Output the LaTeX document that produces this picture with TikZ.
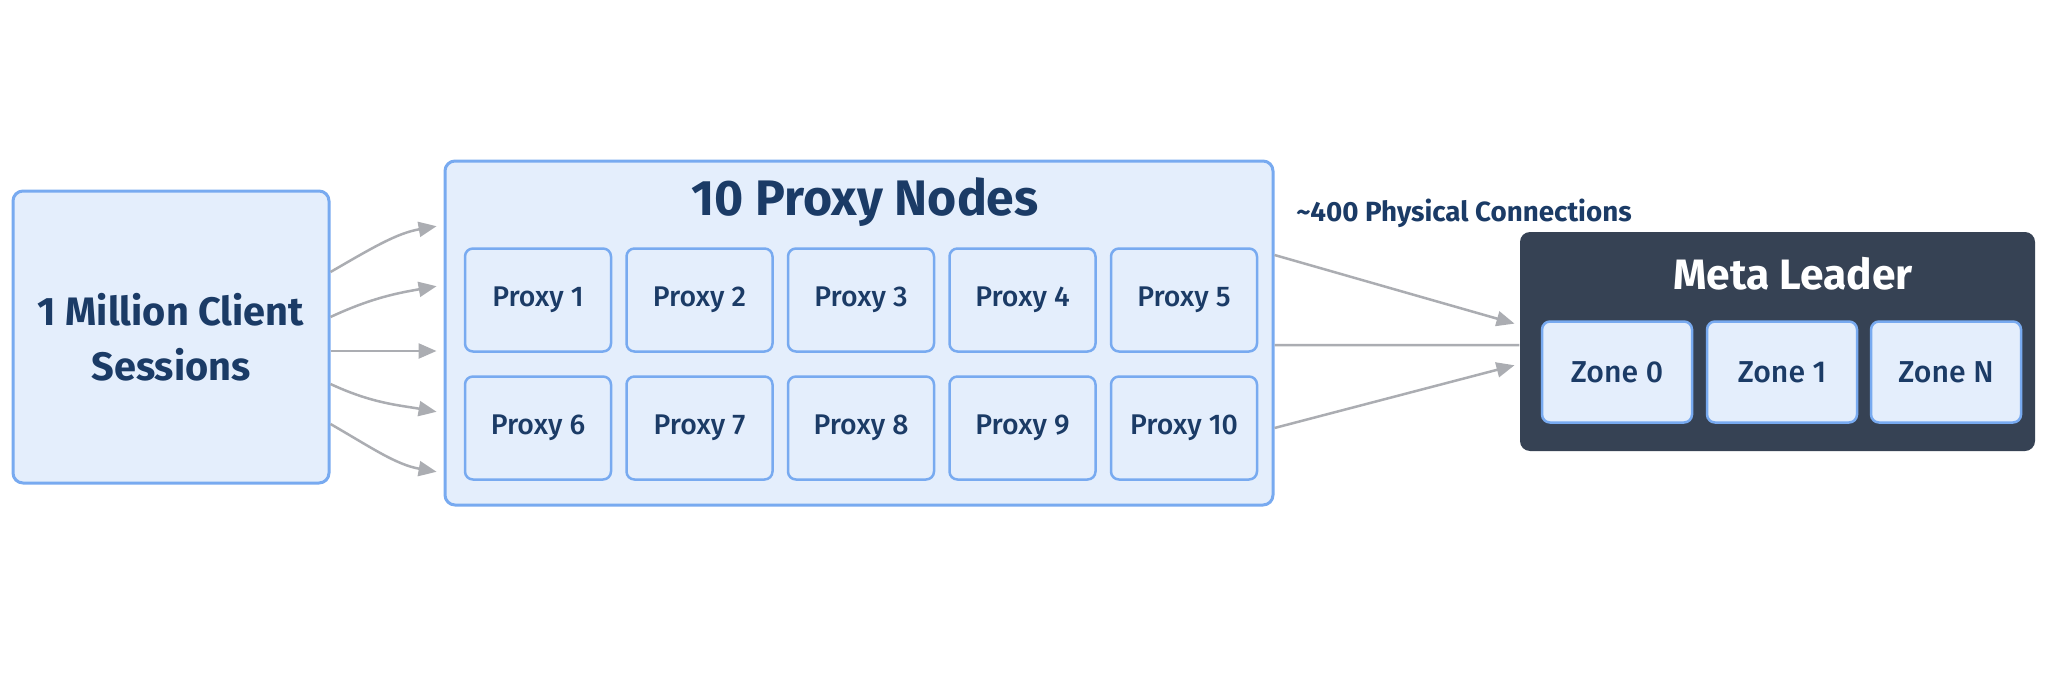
\documentclass[tikz,border=0pt]{standalone}
\usepackage{fontspec}
\setmainfont{Fira Sans}
\newfontfamily\labelfont{Fira Sans Medium}
\usetikzlibrary{arrows.meta}
\definecolor{boxfill}{HTML}{E4EEFC}
\definecolor{boxline}{HTML}{78AAF0}
\definecolor{ink}{HTML}{1B3B66}
\definecolor{arrowgray}{HTML}{ABADB2}
\definecolor{slate}{HTML}{364254}

\begin{document}
\begin{tikzpicture}[x=0.1mm, y=0.1mm,
    box/.style={draw=boxline, fill=boxfill, line width=0.3mm, rounded corners=1mm, text=ink, align=center, inner sep=0pt},
    proxy/.style={box, line width=0.25mm, rounded corners=0.8mm, minimum width=14.6mm, minimum height=10.3mm, font=\labelfont\fontsize{8.1}{9}\selectfont},
    zone/.style={proxy, minimum width=15mm, minimum height=10.1mm, font=\labelfont\fontsize{8.6}{9}\selectfont},
    flow/.style={draw=arrowgray, line width=0.25mm, -{Triangle[length=1.8mm,width=1.5mm]}}]
    \useasboundingbox (0,0) rectangle (2048,683);
    \fill[white] (0,0) rectangle (2048,683);

    % client side
    \node[box, minimum width=31.6mm, minimum height=29.2mm, font=\bfseries\fontsize{11.3}{15.6}\selectfont] (client) at (171,346) {1 Million Client\\Sessions};

    % proxy layer
    \node[box, minimum width=82.8mm, minimum height=34.4mm] (proxies) at (859,350) {};
    \node[text=ink, font=\bfseries\fontsize{14.2}{16}\selectfont] (ptitle) at (865,481) {10 Proxy Nodes};
    \foreach \i in {1,...,5} {
        \pgfmathtruncatemacro\j{\i+5}
        \node[proxy] (p\i) at ({538+161.5*(\i-1)},383) {Proxy \i};
        \node[proxy] (p\j) at ({538+161.5*(\i-1)},255) {Proxy \j};
    }

    % meta leader
    \node[fill=slate, rounded corners=1mm, minimum width=51.5mm, minimum height=21.9mm] (meta) at (1777.5,341.5) {};
    \node[text=white, font=\bfseries\fontsize{12.1}{14}\selectfont] (mtitle) at (1793,409) {Meta Leader};
    \node[zone] (z0) at (1617,311) {Zone 0};
    \node[zone] (z1) at (1782,311) {Zone 1};
    \node[zone] (zn) at (1946,311) {Zone N};

    \node[text=ink, font=\bfseries\fontsize{7.9}{9}\selectfont] (conn) at (1464,470) {\textasciitilde400 Physical Connections};

    % sessions fan out to the proxies
    \foreach \a/\b/\o/\n in {6.5/10.8/30/190, 2/4.8/25/190, -1.4/-1.8/0/180, -4.7/-8/-25/170, -8.7/-14/-30/170}
        \draw[flow, shorten >=0.7mm] ([yshift=\a mm]client.east) to[out=\o, in=\n] ([yshift=\b mm]proxies.west);

    % proxies to the leader
    \draw[flow, shorten >=0.5mm] ([yshift=7.8mm]proxies.east) -- ([yshift=1.65mm]meta.west);
    \draw[draw=arrowgray, line width=0.25mm] ([yshift=-1.2mm]proxies.east) -- ([yshift=-0.35mm]meta.west);
    \draw[flow, shorten >=0.5mm] ([yshift=-9.5mm]proxies.east) -- ([yshift=-2.25mm]meta.west);
\end{tikzpicture}
\end{document}
